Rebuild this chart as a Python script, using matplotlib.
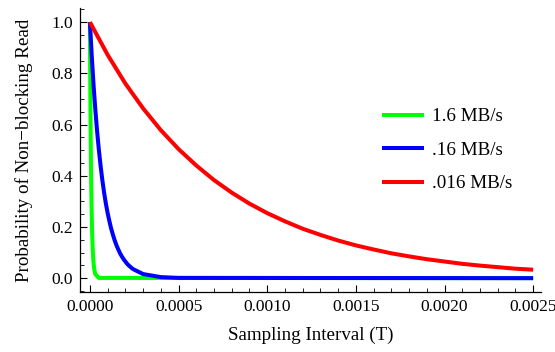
import matplotlib
matplotlib.use("Agg")
import matplotlib.pyplot as plt
from matplotlib.ticker import MultipleLocator, FormatStrFormatter

plt.rcParams['font.family'] = ['Liberation Serif', 'DejaVu Serif']

# values
red_x = [0.0000, 0.0001, 0.0002, 0.0003, 0.0004, 0.0005, 0.0006, 0.0007, 0.0008,
         0.0009, 0.0010, 0.0011, 0.0012, 0.0013, 0.0014, 0.0015, 0.0016, 0.0017,
         0.0018, 0.0019, 0.0020, 0.0021, 0.0022, 0.0023, 0.0024, 0.0025]
red_y = [1.000, 0.872, 0.760, 0.663, 0.578, 0.504, 0.440, 0.383, 0.334,
         0.291, 0.254, 0.222, 0.193, 0.169, 0.147, 0.128, 0.112, 0.097,
         0.085, 0.074, 0.065, 0.056, 0.049, 0.043, 0.037, 0.033]

blue_x = [0.00000, 0.00001, 0.00002, 0.00003, 0.00004, 0.00005, 0.00006, 0.00007,
          0.00008, 0.00009, 0.00010, 0.00011, 0.00012, 0.00013, 0.00014, 0.00015,
          0.00016, 0.00017, 0.00018, 0.00019, 0.00020, 0.00021, 0.00022, 0.00023,
          0.00024, 0.00025, 0.00030, 0.00040, 0.00050, 0.00250]
blue_y = [1.000, 0.872, 0.760, 0.663, 0.578, 0.504, 0.440, 0.383,
          0.334, 0.291, 0.254, 0.222, 0.193, 0.169, 0.147, 0.128,
          0.112, 0.097, 0.085, 0.074, 0.065, 0.056, 0.049, 0.043,
          0.037, 0.033, 0.016, 0.004, 0.001, 0.000]

green_x = [0.000000, 0.000001, 0.000002, 0.000003, 0.000004, 0.000005, 0.000006,
           0.000007, 0.000008, 0.000009, 0.000010, 0.000011, 0.000012, 0.000013,
           0.000014, 0.000015, 0.000016, 0.000017, 0.000018, 0.000019, 0.000020,
           0.000022, 0.000025, 0.000030, 0.000050, 0.002500]
green_y = [1.000, 0.872, 0.760, 0.663, 0.578, 0.504, 0.440,
           0.383, 0.334, 0.291, 0.254, 0.222, 0.193, 0.169,
           0.147, 0.128, 0.112, 0.097, 0.085, 0.074, 0.065,
           0.049, 0.033, 0.016, 0.001, 0.000]

labels = ['1.6 MB/s', '.16 MB/s', '.016 MB/s']

fig = plt.figure(figsize=(5.55, 3.52), dpi=100)
ax = fig.add_axes([0.144, 0.170, 0.831, 0.807])

lw = 2.9
ax.plot(red_x, red_y, color='#ff0000', lw=lw, solid_capstyle='butt', zorder=3)
ax.plot(blue_x, blue_y, color='#0000ff', lw=lw, solid_capstyle='butt', zorder=2)
ax.plot(green_x, green_y, color='#00ff00', lw=lw, solid_capstyle='butt', zorder=1)

ax.set_xlim(-0.0000564, 0.002545)
ax.set_ylim(-0.0547, 1.0547)

for s in ['top', 'right']:
    ax.spines[s].set_visible(False)
for s in ['left', 'bottom']:
    ax.spines[s].set_linewidth(0.9)

ax.xaxis.set_major_locator(MultipleLocator(0.0005))
ax.xaxis.set_minor_locator(MultipleLocator(0.0001))
ax.yaxis.set_major_locator(MultipleLocator(0.2))
ax.yaxis.set_minor_locator(MultipleLocator(0.05))
ax.xaxis.set_major_formatter(FormatStrFormatter('%.4f'))
ax.yaxis.set_major_formatter(FormatStrFormatter('%.1f'))
ax.tick_params(which='major', direction='in', length=5, width=0.8, labelsize=12.5, pad=5)
ax.tick_params(which='minor', direction='in', length=3, width=0.6)

ax.set_xlabel('Sampling Interval (T)', fontsize=13.7, labelpad=8)
ax.set_ylabel('Probability of Non\u2212blocking Read', fontsize=13.7, labelpad=13.5)

# legend
colors = ['#00ff00', '#0000ff', '#ff0000']
handles = [plt.Line2D([], [], color=c, lw=lw) for c in colors]
fig.legend(handles, labels, loc='upper left', bbox_to_anchor=(0.674, 0.72),
           frameon=False, fontsize=13.7, handlelength=2.0, handletextpad=0.55,
           labelspacing=0.85, borderpad=0)

fig.savefig('out.png', dpi=100)
